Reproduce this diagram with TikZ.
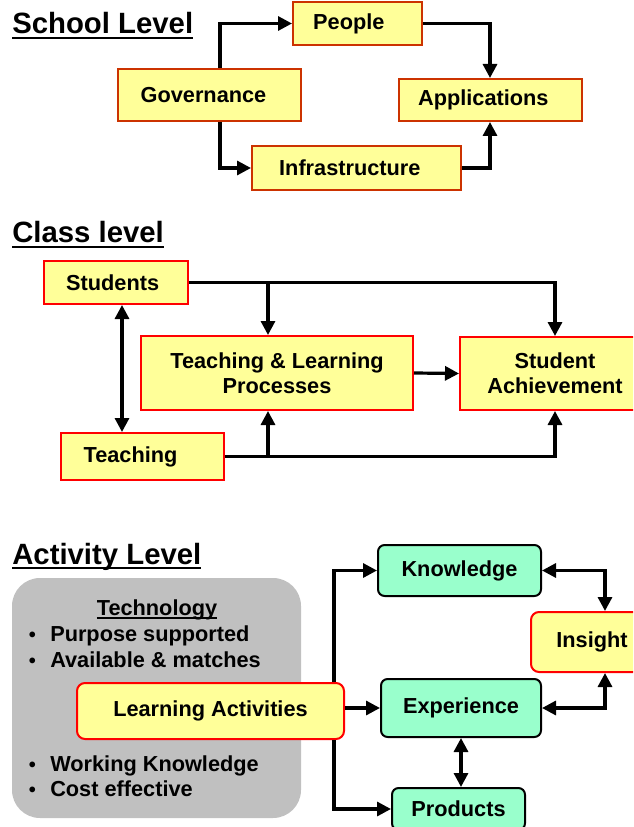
\documentclass[tikz,border=0pt]{standalone}
\usepackage{fontspec}
\setmainfont{Liberation Sans}
\usepackage{xcolor}
\usetikzlibrary{arrows.meta}
\definecolor{boxyel}{HTML}{FFFF99}
\definecolor{boxgrn}{HTML}{99FFCC}
\definecolor{edgeor}{HTML}{CC3300}
\definecolor{edgered}{HTML}{FF0000}
\definecolor{panelgray}{HTML}{C0C0C0}
\newcommand\uln[1]{\setbox0=\hbox{#1}\rlap{\rule[-0.17em]{\wd0}{0.075em}}\box0}
\newcommand\bul{\makebox[16.5pt][l]{\hspace{0.5pt}{\fontsize{15}{15}\selectfont•}}}

\begin{document}
\begin{tikzpicture}[x=0.75pt,y=-0.75pt,
  every node/.style={font=\bfseries\fontsize{16.3}{19}\selectfont},
  title/.style={anchor=base west,inner sep=0pt,font=\bfseries\fontsize{22}{26}\selectfont},
  ybox/.style={draw=edgeor,line width=1.5pt,fill=boxyel,inner sep=0pt},
  rbox/.style={ybox,draw=edgered},
  gbox/.style={draw=black,line width=1.5pt,fill=boxgrn,inner sep=0pt,rounded corners=5pt},
  nudge/.style={execute at end node={\hspace*{#1}}},
  arr/.style={line width=2.4pt,-{Triangle[length=10.5pt,width=10.5pt]}},
  dbl/.style={line width=2.4pt,{Triangle[length=10.5pt,width=10.5pt]}-{Triangle[length=10.5pt,width=10.5pt]}}]
  \useasboundingbox (0,0) rectangle (633,827);
  \clip (0,0) rectangle (633,827);

  % school level
  \node[title] (tschool) at (12,34) {\uln{School Level}};
  \node[ybox,nudge=13pt,minimum width=96.75pt,minimum height=32.25pt] (people) at (357.5,23.5) {People};
  \node[ybox,nudge=9pt,minimum width=137.25pt,minimum height=39pt] (gov) at (209.5,95) {Governance};
  \node[ybox,nudge=10pt,minimum width=137.25pt,minimum height=31.5pt] (apps) at (490,100) {Applications};
  \node[ybox,nudge=10pt,minimum width=156.75pt,minimum height=33pt] (infra) at (356.5,168) {Infrastructure};
  \coordinate (gcol) at (220,0);
  \draw[arr] (gov.north -| gcol) |- (people.west);
  \draw[arr] (gov.south -| gcol) |- (infra.west);
  \draw[arr] (people.east) -| (apps.north);
  \draw[arr] (infra.east) -| (apps.south);

  % class level
  \node[title] (tclass) at (12,243) {\uln{Class level}};
  \node[rbox,nudge=5pt,minimum width=108pt,minimum height=32.25pt] (stud) at (116,282.5) {Students};
  \node[rbox,align=center,minimum width=204pt,minimum height=55.5pt] (tlp) at (277,373) {Teaching \& Learning\\Processes};
  \node[rbox,align=center,minimum width=142.5pt,minimum height=54.75pt] (ach) at (555,373.5) {Student\\Achievement};
  \node[rbox,nudge=18pt,minimum width=122.25pt,minimum height=35.25pt] (teach) at (142.5,456.5) {Teaching};
  \coordinate (bcol) at (268,0);
  \coordinate (scol) at (122,0);
  \draw[arr] (stud.east) -| (ach.north);
  \draw[arr] (stud.east -| bcol) -- (tlp.north -| bcol);
  \draw[dbl] (stud.south -| scol) -- (teach.north -| scol);
  \draw[arr] (tlp.east) -- (ach.west);
  \draw[arr] (teach.east) -| (ach.south);
  \draw[arr] (teach.east -| bcol) -- (tlp.south -| bcol);

  % activity level
  \node[title] (tact) at (12,564) {\uln{Activity Level}};
  \fill[panelgray,rounded corners=21pt] (12,578) rectangle (301,818);
  \node[anchor=base,inner sep=0pt] (tech) at (157,615) {\uln{Technology}};
  \node[anchor=base west,inner sep=0pt] (pur) at (28,641) {\bul Purpose supported};
  \node[anchor=base west,inner sep=0pt] (avl) at (28,667) {\bul Available \& matches};
  \node[anchor=base west,inner sep=0pt] (wrk) at (28,771) {\bul Working Knowledge};
  \node[anchor=base west,inner sep=0pt] (cst) at (28,796) {\bul Cost effective};
  \node[rbox,rounded corners=6pt,minimum width=200.25pt,minimum height=42pt] (lact) at (210.5,711) {Learning Activities};
  \node[gbox,minimum width=122.25pt,minimum height=38.25pt] (know) at (459.5,570.5) {Knowledge};
  \node[gbox,minimum width=120pt,minimum height=43.5pt] (exp) at (461,708) {Experience};
  \node[gbox,minimum width=99.75pt,minimum height=31.5pt] (prod) at (458.5,809) {Products};
  \node[rbox,rounded corners=6pt,minimum width=91.5pt,minimum height=45pt] (ins) at (592,642) {Insight};
  \coordinate (acol) at (334,0);
  \coordinate (icol) at (605,0);
  \draw[arr] (lact.north -| acol) |- (know.west);
  \draw[arr] (lact.south -| acol) |- (prod.west);
  \draw[arr] (exp.west -| lact.east) -- (exp.west);
  \draw[dbl] (know.east) -| (ins.north -| icol);
  \draw[dbl] (exp.east) -| (ins.south -| icol);
  \draw[dbl] (exp.south) -- (exp.south |- prod.north);
\end{tikzpicture}
\end{document}
